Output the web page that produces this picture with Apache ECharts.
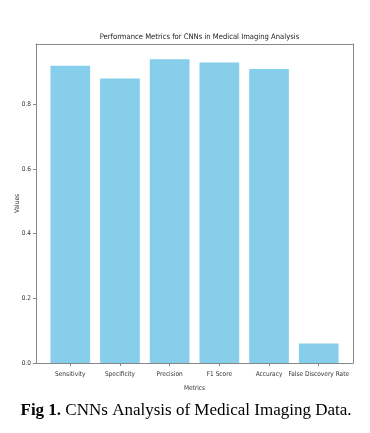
<!DOCTYPE html>
<html><head><meta charset="utf-8">
<script src="https://cdn.jsdelivr.net/npm/echarts@6/dist/echarts.min.js"></script>
<style>html,body{margin:0;padding:0;background:#fff}#c{width:370px;height:433px}</style>
</head><body><div id="c"></div>
<script>
const categories = ["Sensitivity","Specificity","Precision","F1 Score","Accuracy","False Discovery Rate"];
const values = [0.92, 0.88, 0.94, 0.93, 0.91, 0.06];
const yTicks = [0, 0.2, 0.4, 0.6, 0.8];
const titleText = "Performance Metrics for CNNs in Medical Imaging Analysis";
const xName = "Metrics";
const yName = "Values";

const narrow = '"DejaVu Sans Condensed","Liberation Sans Narrow","DejaVu Sans",sans-serif';
const serif = '"Liberation Serif","Times New Roman",serif';
const chart = echarts.init(document.getElementById('c'), null, {renderer:'canvas'});
const idx = categories.map((_, i) => i);
const spine = '#888';
chart.setOption({
  animation: false,
  backgroundColor: '#fff',
  title: [{
    text: titleText, left: 194.5, top: 28, textAlign: 'center',
    textStyle: {fontFamily: narrow, fontSize: 7.6, fontWeight: 'normal', color: '#222'}
  }, {
    text: '{b|Fig 1.} {n|CNNs Analysis of Medical Imaging Data.}',
    left: 181, top: 397, textAlign: 'center',
    textStyle: {fontWeight: 'normal', fontFamily: serif, fontSize: 17, rich: {
      b: {fontFamily: serif, fontWeight: 'bold', fontSize: 17, color: '#000'},
      n: {fontFamily: serif, fontWeight: 'normal', fontSize: 17, color: '#000'}
    }}
  }],
  grid: {left: 36, top: 44, width: 317, height: 319},
  xAxis: [{
    type: 'value', min: -0.69, max: 5.69,
    name: xName, nameLocation: 'middle', nameGap: 22,
    nameTextStyle: {fontFamily: narrow, fontSize: 6.5, color: '#333'},
    axisLine: {show: true, onZero: false, lineStyle: {color: spine, width: 1}},
    axisTick: {show: true, customValues: idx, length: 3, lineStyle: {color: spine}},
    axisLabel: {show: true, customValues: idx, fontFamily: narrow, fontSize: 6.5, color: '#333', margin: 8,
      formatter: v => categories[Math.round(v)]},
    splitLine: {show: false}
  }, {
    type: 'value', position: 'top', min: -0.69, max: 5.69,
    axisLine: {show: true, onZero: false, lineStyle: {color: spine, width: 1}},
    axisTick: {show: false}, axisLabel: {show: false}, splitLine: {show: false}
  }],
  yAxis: [{
    type: 'value', min: 0, max: 0.987,
    name: yName, nameLocation: 'middle', nameGap: 15, nameRotate: 90, nameMoveOverlap: false,
    nameTextStyle: {fontFamily: narrow, fontSize: 6.5, color: '#333'},
    axisLine: {show: true, onZero: false, lineStyle: {color: spine, width: 1}},
    axisTick: {show: true, customValues: yTicks, length: 3, lineStyle: {color: spine}},
    axisLabel: {show: true, customValues: yTicks, fontFamily: narrow, fontSize: 6.5, color: '#333', margin: 5,
      formatter: v => v.toFixed(1)},
    splitLine: {show: false}
  }, {
    type: 'value', position: 'right', min: 0, max: 0.987,
    axisLine: {show: true, onZero: false, lineStyle: {color: spine, width: 1}},
    axisTick: {show: false}, axisLabel: {show: false}, splitLine: {show: false}
  }],
  series: [{
    type: 'bar', xAxisIndex: 0, yAxisIndex: 0,
    data: values.map((v, i) => [i, v]),
    barWidth: 39.7,
    itemStyle: {color: '#87CEEB'}
  }]
});
</script></body></html>
